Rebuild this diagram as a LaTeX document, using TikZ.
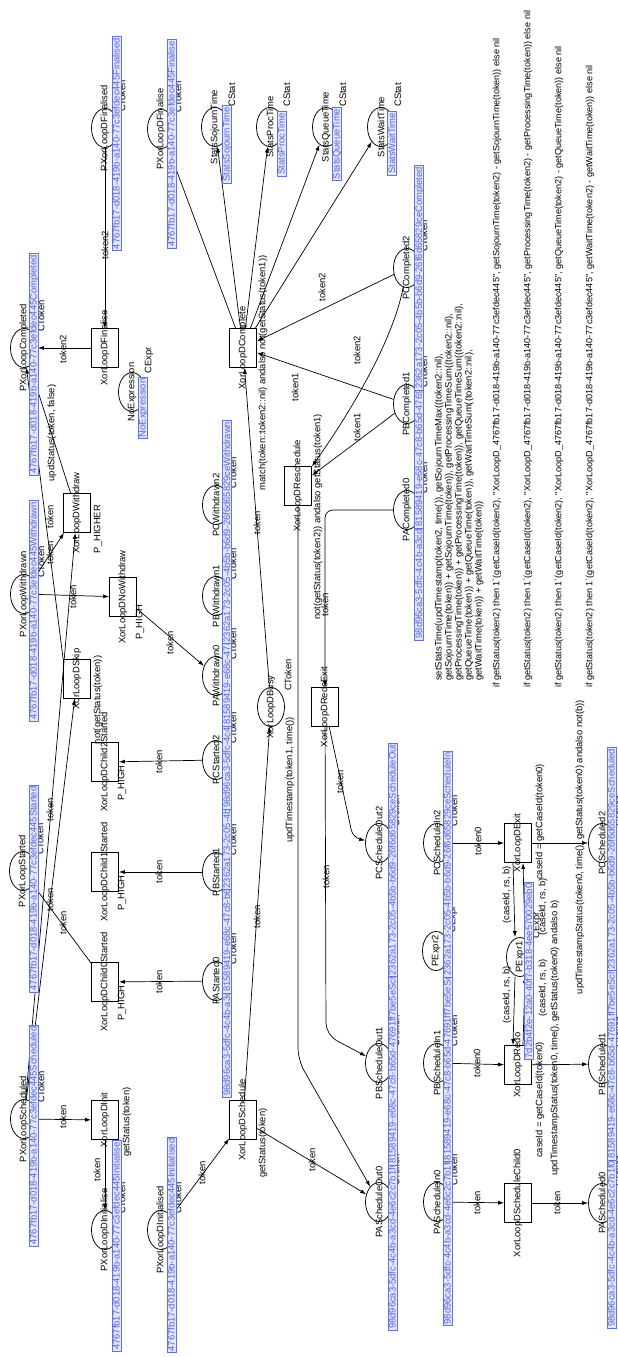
\documentclass[tikz,border=0pt]{standalone}
\usepackage{fontspec}
\newfontfamily\lblfamily{Liberation Sans}
\usetikzlibrary{shapes.geometric,arrows.meta}
\definecolor{fusedraw}{RGB}{95,115,225}
\definecolor{fusefill}{RGB}{226,230,252}
\definecolor{fusetext}{RGB}{85,100,215}
\newcommand\lblsize{\lblfamily\fontsize{9.4}{10}\selectfont}
\newcommand\guidD{4767fb17-d018-419b-a140-77c3efdec445}
\newcommand\guidA{98d96ca3-5dfc-4c4b-a3cd-4e6c2c7b1f0a}
\newcommand\guidB{81589419-e68c-47c8-b65d-47691ff7be5e}
\newcommand\guidC{2362a173-2c05-4b5b-b6d9-26f6d65829ce}
\newcommand\guidX{7d2b4f2e-12a0-40f7-b318-4ee570029eb0}
\newcommand{\mkplace}[5]{\node[place] (#1) at (#2,#3) {}; \node[txt] (#1n) at (#2,#3) {#4}; \node[txt] (#1t) at ({#2+17},{#3-32}) {#5};}
\newcommand{\mktrans}[4]{\node[trans] (#1) at (#2,#3) {}; \node[txt] (#1n) at (#2,#3) {#4};}
\begin{document}
\begin{tikzpicture}[x=1pt,y=-1pt,
  place/.style={draw, ellipse, line width=0.75pt, minimum width=39pt, minimum height=27pt, inner sep=0pt, rotate=90},
  trans/.style={draw, rectangle, line width=0.75pt, minimum width=39pt, minimum height=27pt, inner sep=0pt, rotate=90},
  txt/.style={rotate=90, inner sep=0pt, font=\lblsize},
  fuse/.style={rotate=90, draw=fusedraw, fill=fusefill, text=fusetext, font=\lblsize, inner xsep=1.5pt, inner ysep=0.5pt, text height=7pt, text depth=1pt, line width=0.8pt},
  arc/.style={line width=0.7pt, -{Latex[length=6pt,width=4pt]}}]
\fill[white] (0,0) rectangle (618,1357);
\useasboundingbox (0,0) rectangle (618,1357);

% ---------------- places
\mkplace{pDFd}{105}{128}{PXorLoopDFinalised}{CToken}
\mkplace{pDF}{161}{129}{PXorLoopDFinalise}{CToken}
\mkplace{sSoj}{215}{127}{StatsSojournTime}{CStat}
\mkplace{sProc}{270}{127}{StatsProcTime}{CStat}
\mkplace{sQue}{326}{127}{StatsQueueTime}{CStat}
\mkplace{sWait}{381}{127}{StatsWaitTime}{CStat}
\mkplace{pComp}{24}{348}{PXorLoopCompleted}{CToken}
\mkplace{pNoE}{132}{392}{NoExpression}{CExpr}
\mkplace{pCC2}{407}{268}{PCCompleted2}{CToken}
\mkplace{pBC1}{407}{404}{PBCompleted1}{CToken}
\mkplace{pAC0}{407}{510}{PACompleted0}{CToken}
\mkplace{pWd}{24}{594}{PXorLoopWithdrawn}{CToken}
\mkplace{pCW2}{216}{505}{PCWithdrawn2}{CToken}
\mkplace{pBW1}{216}{596}{PBWithdrawn1}{CToken}
\mkplace{pAW0}{216}{676}{PAWithdrawn0}{CToken}
\mkplace{pBusy}{271}{707}{XorLoopDBusy}{CToken}
\mkplace{pCS2}{216}{760}{PCStarted2}{CToken}
\mkplace{pBS1}{216}{872}{PBStarted1}{CToken}
\mkplace{pAS0}{216}{981}{PAStarted0}{CToken}
\mkplace{pSt}{23}{871}{PXorLoopStarted}{CToken}
\mkplace{pSch}{24}{1119}{PXorLoopScheduled}{CToken}
\mkplace{pIni}{105}{1230}{PXorLoopDInitialise}{CToken}
\mkplace{pInd}{161}{1230}{PXorLoopDInitialised}{CToken}
\mkplace{pCO2}{379}{843}{PCScheduleOut2}{CToken}
\mkplace{pBO1}{379}{1063}{PBScheduleOut1}{CToken}
\mkplace{pAO0}{379}{1202}{PAScheduleOut0}{CToken}
\mkplace{pCI2}{437}{843}{PCScheduleIn2}{CToken}
\mkplace{pX2}{436}{951}{PExpr2}{CExpr}
\mkplace{pBI1}{437}{1063}{PBScheduleIn1}{CToken}
\mkplace{pAI0}{437}{1202}{PAScheduleIn0}{CToken}
\mkplace{pX1}{520}{957}{PExpr1}{CExpr}
\mkplace{pCD2}{602}{843}{PCScheduled2}{CToken}
\mkplace{pBD1}{602}{1064}{PBScheduled1}{CToken}
\mkplace{pAD0}{602}{1203}{PAScheduled0}{CToken}

% ---------------- transitions
\mktrans{tFin}{105}{348}{XorLoopDFinalise}
\mktrans{tComp}{243}{348}{XorLoopDComplete}
\mktrans{tWd}{77}{513}{XorLoopDWithdraw}
\mktrans{tNoWd}{123}{597}{XorLoopDNoWithdraw}
\mktrans{tResch}{298}{486}{XorLoopDReschedule}
\mktrans{tSkip}{77}{679}{XorLoopDSkip}
\mktrans{tRedoEx}{325}{707}{XorLoopDRedoExit}
\mktrans{tC2}{105}{762}{XorLoopDChild2Started}
\mktrans{tC1}{105}{872}{XorLoopDChild1Started}
\mktrans{tC0}{105}{982}{XorLoopDChild0Started}
\mktrans{tInit}{105}{1120}{XorLoopDInit}
\mktrans{tSch}{243}{1120}{XorLoopDSchedule}
\mktrans{tExit}{518}{843}{XorLoopDExit}
\mktrans{tRedo}{518}{1065}{XorLoopDRedo}
\mktrans{tSC0}{518}{1203}{XorLoopDScheduleChild0}

% guards and priorities
\node[txt] (gSkip) at (98,700) {not(getStatus(token))};
\node[txt] (gComp) at (263,373) {match(token::token2::nil) andalso not(getStatus(token1))};
\node[txt] (gResch) at (318,517) {not(getStatus(token2)) andalso getStatus(token1)};
\node[txt] (gInit) at (127,1122) {getStatus(token)};
\node[txt] (gSch) at (263,1143) {getStatus(token)};
\node[txt] (gExit) at (540,822) {caseId = getCaseId(token0)};
\node[txt] (gRedo) at (540,1100) {caseId = getCaseId(token0)};
\node[txt] (prWd) at (98,529) {P\_HIGHER};
\node[txt] (prNoWd) at (140,622) {P\_HIGH};
\node[txt] (prC2) at (122,783) {P\_HIGH};
\node[txt] (prC1) at (122,893) {P\_HIGH};
\node[txt] (prC0) at (122,1003) {P\_HIGH};

% ---------------- arcs
\coordinate (cR) at (298,1060);
\coordinate (cB) at (326,1035);
\coordinate (cC) at (353,838);
\draw[arc] (pDFd) -- (tFin);
\draw[arc] (tFin) -- (pComp);
\draw[arc] (tWd) -- (pComp);
\draw[arc] (tSkip.north east) -- (pComp);
\draw[arc] (pWd) -- (tWd);
\draw[arc] (pWd) -- (tNoWd);
\draw[arc] (pSch) -- (tWd);
\draw[arc] (pSch) -- (tSkip);
\draw[arc] (tC0) -- (pSt);
\draw[arc] (pCS2) -- (tC2);
\draw[arc] (pBS1) -- (tC1);
\draw[arc] (pAS0) -- (tC0);
\draw[arc] (tNoWd) -- (pAW0);
\draw[arc] (pSch) -- (tInit);
\draw[arc] (tInit) -- (pIni);
\draw[arc] (pInd) -- (tSch);
\draw[arc] (tSch) -- (pBusy);
\draw[arc] (pBusy) -- (tComp);
\draw[arc] (tSch) -- (pAO0);
\draw[arc] (tComp) -- (sSoj);
\draw[arc] (tComp) -- (sProc);
\draw[arc] (tComp) -- (sQue);
\draw[arc] (tComp) -- (sWait);
\draw[arc] (tComp) -- (pDF);
\draw[arc] (pCC2) -- (tComp);
\draw[arc] (pBC1) -- (tComp);
\draw[arc] (pCC2) .. controls (392,345) and (345,420) .. (tResch);
\draw[arc] (pBC1) -- (tResch);
\draw[arc, rounded corners=12pt] (tResch) -- (cR) -- (pAO0);
\draw[arc, rounded corners=8pt] (pAC0) -| (tRedoEx);
\draw[arc, rounded corners=12pt] (tRedoEx) -- (cB) -- (pBO1);
\draw[arc, rounded corners=8pt] (tRedoEx) -- (cC) -- (pCO2);
\draw[arc] (pCI2) -- (tExit);
\draw[arc] (tExit) -- (pCD2);
\draw[arc] ([xshift=-5pt]tExit.west) -- ([xshift=-5pt]pX1.east);
\draw[arc] ([xshift=5pt]pX1.east) -- ([xshift=5pt]tExit.west);
\draw[arc] ([xshift=-5pt]pX1.west) -- ([xshift=-5pt]tRedo.east);
\draw[arc] ([xshift=5pt]tRedo.east) -- ([xshift=5pt]pX1.west);
\draw[arc] (pBI1) -- (tRedo);
\draw[arc] (tRedo) -- (pBD1);
\draw[arc] (pAI0) -- (tSC0);
\draw[arc] (tSC0) -- (pAD0);

% ---------------- fusion tags
\node[fuse] (bDFd) at (116.5,143.5) {\guidD Finalised};
\node[fuse] (bDF) at (171.5,144) {\guidD Finalise};
\node[fuse] (bSoj) at (226.5,144.5) {StatsSojournTime};
\node[fuse] (bProc) at (281.5,144) {StatsProcTime};
\node[fuse] (bQue) at (336.5,144) {StatsQueueTime};
\node[fuse] (bWait) at (392,143.5) {StatsWaitTime};
\node[fuse] (bComp) at (33.5,364.5) {\guidD Completed};
\node[fuse] (bNoE) at (142.5,408) {NoExpression};
\node[fuse] (bWd) at (33.5,611) {\guidD Withdrawn};
\node[fuse] (bSt) at (33.5,888.5) {\guidD Started};
\node[fuse] (bSch) at (33.5,1135.5) {\guidD Scheduled};
\node[fuse] (bIni) at (116.5,1246) {\guidD Initialise};
\node[fuse] (bInd) at (171.5,1245) {\guidD Initialised};
\node[fuse] (bX1) at (529,971) {\guidX};
\node[fuse] (bAC0) at (419,530) {\guidA Completed};
\node[fuse] (bBC1) at (419,417) {\guidB Completed};
\node[fuse] (bCC2) at (419,278) {\guidC Completed};
\node[fuse] (bAS0) at (227,995) {\guidA Started};
\node[fuse] (bBS1) at (227,890) {\guidB Started};
\node[fuse] (bCS2) at (227,785) {\guidC Started};
\node[fuse] (bAW0) at (227,700) {\guidA Withdrawn};
\node[fuse] (bBW1) at (227,616) {\guidB Withdrawn};
\node[fuse] (bCW2) at (227,532) {\guidC Withdrawn};
\node[fuse] (bAO0) at (392.5,1216) {\guidA ScheduleOut};
\node[fuse] (bBO1) at (392.5,1050) {\guidB ScheduleOut};
\node[fuse] (bCO2) at (392.5,860) {\guidC ScheduleOut};
\node[fuse] (bAI0) at (447.5,1215) {\guidA ScheduleIn};
\node[fuse] (bBI1) at (447.5,1050) {\guidB ScheduleIn};
\node[fuse] (bCI2) at (447.5,864) {\guidC ScheduleIn};
\node[fuse] (bAD0) at (611.5,1219) {\guidA Scheduled};
\node[fuse] (bBD1) at (611.5,1050) {\guidB Scheduled};
\node[fuse] (bCD2) at (611.5,859) {\guidC Scheduled};

% ---------------- arc inscriptions
\node[txt] (l1) at (105,245) {token2};
\node[txt] (l2) at (63,349) {token2};
\node[txt] (l3) at (52,433) {updStatus(token, false)};
\node[txt] (l4) at (50,517) {token};
\node[txt] (l5) at (50,553) {token};
\node[txt] (l6) at (73,597) {token};
\node[txt] (l7) at (50,810) {token};
\node[txt] (l8) at (50,900) {token};
\node[txt] (l9) at (63,923) {token};
\node[txt] (l10) at (159,762) {token};
\node[txt] (l11) at (159,872) {token};
\node[txt] (l12) at (159,982) {token};
\node[txt] (l13) at (170,643) {token};
\node[txt] (l14) at (63,1117) {token};
\node[txt] (l15) at (97,1170) {token};
\node[txt] (l16) at (202,1173) {token};
\node[txt] (l17) at (257,917) {token};
\node[txt] (l18) at (257,523) {token};
\node[txt] (l19) at (312,1160) {token};
\node[txt] (l20) at (290,780) {updTimestamp(token1, time())};
\node[txt] (l21) at (322,287) {token2};
\node[txt] (l22) at (295,387) {token1};
\node[txt] (l23) at (357,350) {token2};
\node[txt] (l24) at (357,427) {token1};
\node[txt] (l25) at (325,605) {token};
\node[txt] (l26) at (340,782) {token};
\node[txt] (l27) at (326,877) {token};
\node[txt] (l28) at (478,841) {token0};
\node[txt] (l29) at (507,895) {(caseId, rs, b)};
\node[txt] (l30) at (543,907) {(caseId, rs, b)};
\node[txt] (l31) at (507,995) {(caseId, rs, b)};
\node[txt] (l32) at (543,988) {(caseId, rs, b)};
\node[txt] (l33) at (477,1063) {token0};
\node[txt] (l34) at (477,1203) {token};
\node[txt] (l35) at (557,1203) {token};
\node[txt] (l36) at (580,847) {updTimestampStatus(token0, time(), getStatus(token0) andalso not(b))};
\node[txt] (l37) at (555,1038) {updTimestampStatus(token0, time(), getStatus(token0) andalso b)};
\node[txt, anchor=north west, align=left] (l38) at (434.5,681) {setStatsTime(updTimestamp(token2, time()), getSojournTimeMax((token2::nil),\\getSojournTime(token)) + getSojournTime(token)), getProcessingTimeSum((token2::nil),\\getProcessingTime(token)) + getProcessingTime(token)), getQueueTimeSum((token2::nil),\\getQueueTime(token)) + getQueueTime(token)), getWaitTimeSum((token2::nil),\\getWaitTime(token)) + getWaitTime(token))};
\begin{scope}[every node/.append style={font=\lblfamily\fontsize{9.1}{10}\selectfont}]
\node[txt, font=\lblfamily\fontsize{9.1}{10}\selectfont, anchor=west] (l39) at (497,688) {if getStatus(token2) then 1\textasciigrave(getCaseId(token2), "XorLoopD\_\guidD", getSojournTime(token2) - getSojournTime(token)) else nil};
\node[txt, font=\lblfamily\fontsize{9.1}{10}\selectfont, anchor=west] (l40) at (528,688) {if getStatus(token2) then 1\textasciigrave(getCaseId(token2), "XorLoopD\_\guidD", getProcessingTime(token2) - getProcessingTime(token)) else nil};
\node[txt, font=\lblfamily\fontsize{9.1}{10}\selectfont, anchor=west] (l41) at (559,688) {if getStatus(token2) then 1\textasciigrave(getCaseId(token2), "XorLoopD\_\guidD", getQueueTime(token2) - getQueueTime(token)) else nil};
\node[txt, font=\lblfamily\fontsize{9.1}{10}\selectfont, anchor=west] (l42) at (590,688) {if getStatus(token2) then 1\textasciigrave(getCaseId(token2), "XorLoopD\_\guidD", getWaitTime(token2) - getWaitTime(token)) else nil};
\end{scope}
\end{tikzpicture}
\end{document}
